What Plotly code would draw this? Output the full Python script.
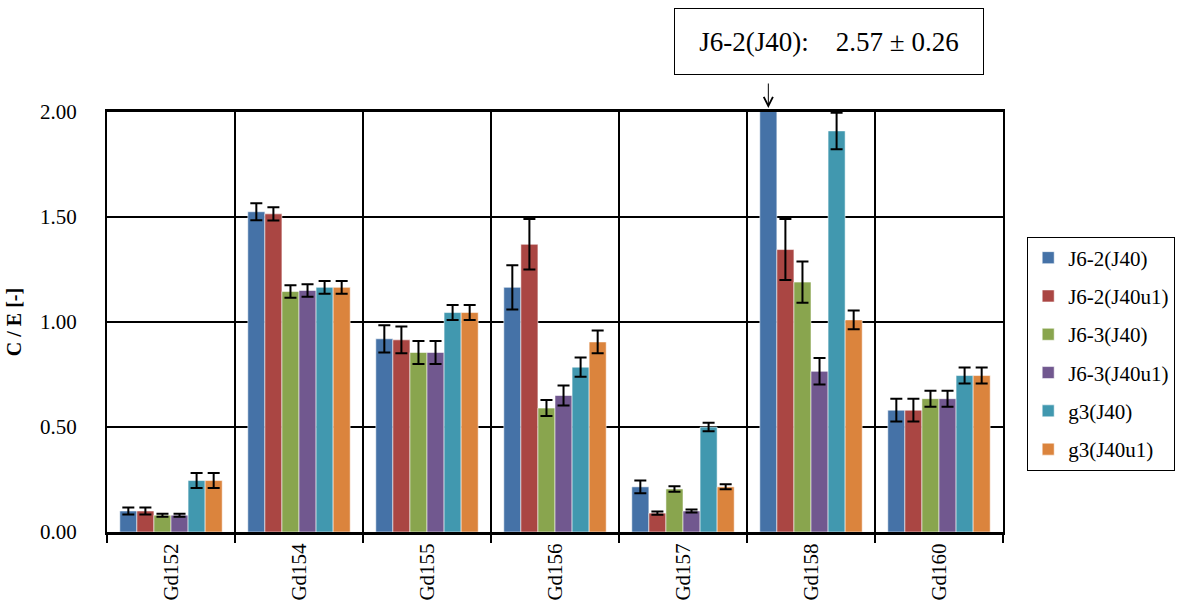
import plotly.graph_objects as go

# Isotopes on the category axis
isotopes = ["Gd152", "Gd154", "Gd155", "Gd156", "Gd157", "Gd158", "Gd160"]

# C/E values and their uncertainties for each calculation
series_names = ["J6-2(J40)", "J6-2(J40u1)", "J6-3(J40)", "J6-3(J40u1)", "g3(J40)", "g3(J40u1)"]

j62_j40 = [0.10, 1.525, 0.92, 1.165, 0.215, 2.57, 0.58]
j62_j40_err = [0.017, 0.04, 0.065, 0.105, 0.03, 0.26, 0.054]

j62_j40u1 = [0.10, 1.515, 0.915, 1.37, 0.09, 1.345, 0.58]
j62_j40u1_err = [0.017, 0.032, 0.064, 0.12, 0.008, 0.145, 0.054]

j63_j40 = [0.08, 1.145, 0.855, 0.59, 0.205, 1.19, 0.635]
j63_j40_err = [0.007, 0.03, 0.055, 0.038, 0.013, 0.098, 0.038]

j63_j40u1 = [0.08, 1.15, 0.855, 0.65, 0.10, 0.765, 0.635]
j63_j40u1_err = [0.007, 0.03, 0.055, 0.048, 0.007, 0.063, 0.038]

g3_j40 = [0.245, 1.165, 1.045, 0.785, 0.50, 1.91, 0.745]
g3_j40_err = [0.036, 0.03, 0.036, 0.046, 0.02, 0.087, 0.038]

g3_j40u1 = [0.245, 1.165, 1.045, 0.905, 0.215, 1.01, 0.745]
g3_j40u1_err = [0.036, 0.03, 0.036, 0.054, 0.012, 0.045, 0.038]

colors = ["#4572A7", "#AA4643", "#89A54E", "#71588F", "#4198AF", "#DB843D"]

values = [j62_j40, j62_j40u1, j63_j40, j63_j40u1, g3_j40, g3_j40u1]
errors = [j62_j40_err, j62_j40u1_err, j63_j40_err, j63_j40u1_err, g3_j40_err, g3_j40u1_err]

Y_MAX = 2.0
BARGAP = 0.2
FONT = "Liberation Serif"

fig = go.Figure()
for name, vals, errs, col in zip(series_names, values, errors, colors):
    fig.add_trace(go.Bar(
        name=name,
        x=isotopes,
        y=vals,
        legendgroup=name,
        marker=dict(color=col, line=dict(color="rgba(255,255,255,0.55)", width=1)),
        error_y=dict(type="data", array=errs, visible=True,
                     color="black", thickness=2, width=6),
    ))

# Off-scale bar: note its value in a box with an arrow pointing at the bar
n_series = len(series_names)
off_idx = next(i for i, v in enumerate(j62_j40) if v > Y_MAX)
bar_w = (1 - BARGAP) / n_series
arrow_x = off_idx - (1 - BARGAP) / 2 + bar_w / 2

fig.add_annotation(
    x=arrow_x, y=Y_MAX, xref="x", yref="y",
    text="", showarrow=True, ax=0, ay=-30,
    arrowhead=5, arrowsize=1.8, arrowwidth=1, arrowcolor="black", standoff=4,
)
fig.add_annotation(
    x=0.806, y=1.168, xref="paper", yref="paper",
    xanchor="center", yanchor="middle",
    text=f"{series_names[0]}:\u00a0\u00a0\u00a0\u00a0{j62_j40[off_idx]:.2f} ± {j62_j40_err[off_idx]:.2f}",
    showarrow=False,
    width=306, height=63,
    bordercolor="black", borderwidth=1, bgcolor="white",
    font=dict(family=FONT, size=27, color="black"),
)

fig.update_layout(
    width=1178, height=614,
    margin=dict(l=107, r=175, t=112, b=82, autoexpand=False),
    paper_bgcolor="white", plot_bgcolor="white",
    barmode="group", bargap=BARGAP, bargroupgap=0,
    font=dict(family=FONT, size=21, color="black"),
    legend=dict(
        x=1.027, xanchor="left", y=0.425, yanchor="middle",
        bordercolor="black", borderwidth=1,
        font=dict(family=FONT, size=21, color="black"),
        tracegroupgap=8, traceorder="grouped",
        itemwidth=30,
    ),
    xaxis=dict(
        type="category", tickson="boundaries",
        showgrid=True, gridcolor="black", gridwidth=2,
        showline=True, linecolor="black", linewidth=3, mirror=True,
        ticks="outside", ticklen=8, tickwidth=2, tickcolor="black",
        tickangle=-90, tickfont=dict(family=FONT, size=21),
    ),
    yaxis=dict(
        range=[0, Y_MAX], tickvals=[0, 0.5, 1.0, 1.5, 2.0], tickformat=".2f",
        showgrid=True, gridcolor="black", gridwidth=2,
        showline=True, linecolor="black", linewidth=2, mirror=True,
        zeroline=False, ticks="", ticklabelstandoff=24,
        tickfont=dict(family=FONT, size=21),
        title=dict(text="<b>C / E [-]</b>", font=dict(family=FONT, size=20), standoff=13),
    ),
)

fig.write_html("out.html")
